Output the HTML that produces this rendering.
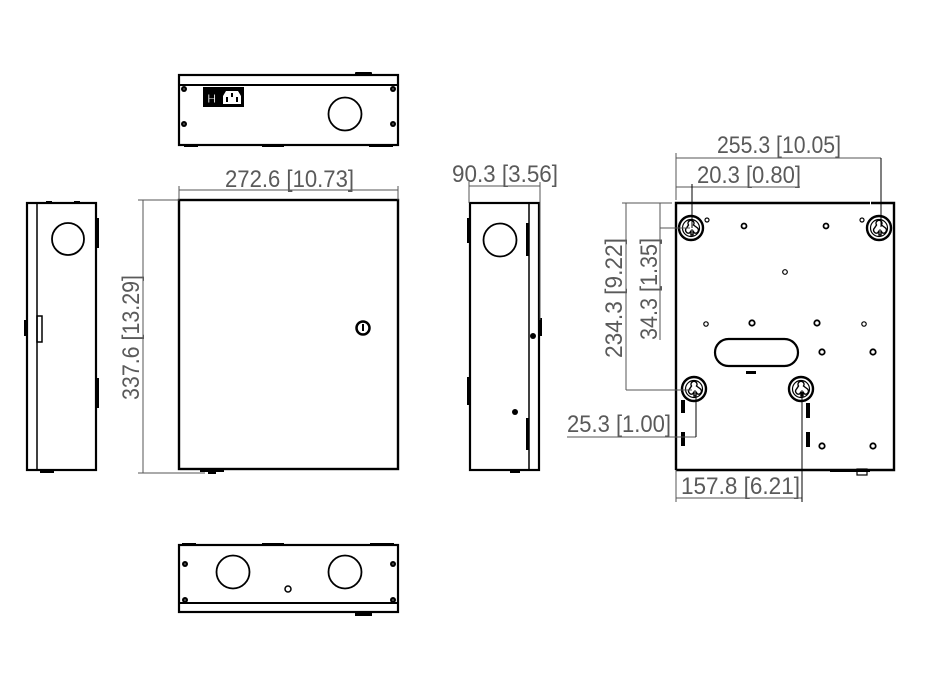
<!DOCTYPE html>
<html><head><meta charset="utf-8"><style>
html,body{margin:0;padding:0;background:#fff;}
svg{display:block;}
text{font-family:"Liberation Sans",sans-serif;fill:#5a5a5a;font-size:24px;}
</style></head><body>
<svg width="936" height="673" viewBox="0 0 936 673" xmlns="http://www.w3.org/2000/svg">
<defs>
<g id="kh">
<circle r="12" fill="none" stroke="#000" stroke-width="2.4"/>
<circle r="8.5" fill="none" stroke="#000" stroke-width="1.2"/>
<path d="M-2.5,-3 a3,3 0 1 1 5,0 l4,3 a3,3 0 0 1 -3,5 l-1.5,-2 v4 h-2 v-4 l-1.5,2 a3,3 0 0 1 -3,-5 z" fill="none" stroke="#000" stroke-width="1.4"/>
</g>
<g id="sc"><circle r="3" fill="#000"/><circle r="1" fill="#555"/></g>
</defs>
<g fill="none" stroke="#000">
<!-- TOP VIEW -->
<rect x="355" y="72" width="17" height="4" fill="#000" stroke="none" rx="1"/>
<rect x="179" y="75" width="219" height="70" stroke-width="2.2"/>
<line x1="179" y1="85" x2="398" y2="85" stroke-width="2"/>
<rect x="184" y="145" width="14" height="2" fill="#000" stroke="none"/>
<rect x="262" y="145" width="22" height="2" fill="#000" stroke="none"/>
<rect x="369" y="145" width="24" height="2" fill="#000" stroke="none"/>
<rect x="203" y="87" width="16" height="20" fill="#000" stroke="none"/>
<text x="207" y="103" style="fill:#fff;font-size:13px;font-weight:bold">H</text>
<rect x="219" y="87" width="25" height="20" fill="#000" stroke="none"/>
<path d="M223,104 v-8 l3,-5 h12 l3,5 v8 z" fill="#fff" stroke="none"/>
<rect x="226" y="97" width="2" height="5" fill="#000" stroke="none"/>
<rect x="236" y="97" width="2" height="5" fill="#000" stroke="none"/>
<rect x="231" y="93" width="2" height="4" fill="#000" stroke="none"/>
<circle cx="345" cy="114" r="16.5" stroke-width="1.8"/>
</g>
<use href="#sc" x="184" y="89"/><use href="#sc" x="393" y="89"/>
<use href="#sc" x="184" y="124"/><use href="#sc" x="393" y="124"/>

<!-- LEFT SIDE VIEW -->
<g fill="none" stroke="#000">
<rect x="27" y="203" width="69" height="267" stroke-width="2.2"/>
<line x1="37" y1="203" x2="37" y2="470" stroke-width="1.5"/>
<circle cx="68" cy="239" r="16" stroke-width="1.8"/>
<rect x="37" y="316" width="5" height="26" stroke-width="1.5"/>
<rect x="24" y="320" width="4" height="16" fill="#000" stroke="none"/>
<rect x="96" y="218" width="3" height="30" fill="#000" stroke="none"/>
<rect x="96" y="378" width="3" height="30" fill="#000" stroke="none"/>
<rect x="40" y="470" width="14" height="3" fill="#000" stroke="none"/>
<rect x="46" y="201" width="6" height="2" fill="#000" stroke="none"/>
<rect x="74" y="201" width="6" height="2" fill="#000" stroke="none"/>
</g>

<!-- FRONT VIEW -->
<g fill="none" stroke="#000">
<rect x="179" y="200" width="219" height="269" stroke-width="2.4"/>
<rect x="200" y="469" width="24" height="3" fill="#000" stroke="none"/>
<rect x="208" y="469" width="8" height="5" fill="#000" stroke="none"/>
<circle cx="363" cy="328" r="6.5" stroke-width="2.5"/>
<rect x="362" y="324" width="2" height="7" fill="#000" stroke="none"/>
</g>
<g stroke="#555" stroke-width="1" fill="none">
<line x1="179" y1="190" x2="398" y2="190"/>
<line x1="179" y1="186" x2="179" y2="200"/>
<line x1="398" y1="186" x2="398" y2="200"/>
<line x1="143" y1="200" x2="143" y2="473"/>
<line x1="138" y1="200" x2="179" y2="200"/>
<line x1="138" y1="473" x2="205" y2="473"/>
</g>
<text x="225" y="187" textLength="129" lengthAdjust="spacingAndGlyphs">272.6 [10.73]</text>
<text transform="translate(139,400) rotate(-90)" textLength="125" lengthAdjust="spacingAndGlyphs">337.6 [13.29]</text>

<!-- RIGHT SIDE VIEW -->
<g fill="none" stroke="#000">
<rect x="470" y="203" width="69" height="267" stroke-width="2.2"/>
<line x1="529" y1="203" x2="529" y2="470" stroke-width="1.5"/>
<circle cx="500" cy="240" r="16.5" stroke-width="1.8"/>
<rect x="526" y="223" width="3" height="33" fill="#000" stroke="none"/>
<rect x="526" y="418" width="3" height="32" fill="#000" stroke="none"/>
<rect x="539" y="318" width="3" height="18" fill="#000" stroke="none"/>
<rect x="467" y="218" width="3" height="25" fill="#000" stroke="none"/>
<rect x="467" y="377" width="3" height="28" fill="#000" stroke="none"/>
<circle cx="533" cy="336" r="3" fill="#000" stroke="none"/>
<circle cx="515" cy="412" r="3" fill="#000" stroke="none"/>
<rect x="510" y="470" width="10" height="3" fill="#000" stroke="none"/>
</g>
<g stroke="#555" stroke-width="1">
<line x1="469" y1="186" x2="540" y2="186"/>
<line x1="469" y1="182" x2="469" y2="203"/>
<line x1="540" y1="182" x2="540" y2="320"/>
</g>
<text x="452" y="182" textLength="106" lengthAdjust="spacingAndGlyphs">90.3 [3.56]</text>

<!-- BACK VIEW -->
<g fill="none" stroke="#000">
<path d="M676,470 V203 H870 M871,203 H894 V470 H676" stroke-width="2.4"/>
<rect x="830" y="469" width="40" height="3" fill="#000" stroke="none"/>
<rect x="857" y="469" width="10" height="6" stroke-width="1.2"/>
<rect x="715" y="339" width="83" height="27" rx="13.5" stroke-width="2.2"/>
<rect x="746" y="371" width="10" height="3" fill="#000" stroke="none"/>
<rect x="681" y="400" width="4" height="13" fill="#000" stroke="none"/>
<rect x="681" y="432" width="4" height="14" fill="#000" stroke="none"/>
<rect x="806" y="403" width="4" height="15" fill="#000" stroke="none"/>
<rect x="806" y="432" width="4" height="15" fill="#000" stroke="none"/>
<g stroke-width="1.2"><circle cx="707" cy="220" r="2"/><circle cx="862" cy="220" r="2"/><circle cx="706" cy="324" r="2.2"/><circle cx="864" cy="324" r="2.2"/><circle cx="785" cy="272" r="2.3"/></g>
<g stroke-width="1.8"><circle cx="744" cy="226" r="2.5"/><circle cx="826" cy="226" r="2.5"/><circle cx="752" cy="323" r="2.7"/><circle cx="817" cy="323" r="2.7"/><circle cx="822" cy="352" r="2.7"/><circle cx="873" cy="352" r="2.7"/><circle cx="822" cy="446" r="2.7"/><circle cx="873" cy="446" r="2.7"/></g>
</g>
<use href="#kh" x="691" y="228"/><use href="#kh" x="879" y="228"/>
<use href="#kh" x="694" y="389"/><use href="#kh" x="801" y="389"/>
<g stroke-width="1">
<g stroke="#555">
<line x1="676" y1="158" x2="881" y2="158"/>
<line x1="676" y1="153" x2="676" y2="200"/>
<line x1="676" y1="187" x2="692" y2="187"/>
<line x1="692" y1="187" x2="800" y2="187"/>
<line x1="622" y1="203" x2="672" y2="203"/>
<line x1="626" y1="203" x2="626" y2="390"/>
<line x1="626" y1="390" x2="692" y2="390"/>
<line x1="660" y1="203" x2="660" y2="340"/>
<line x1="660" y1="228" x2="690" y2="228"/>
<line x1="567" y1="437" x2="696" y2="437"/>
<line x1="676" y1="498" x2="802" y2="498"/>
<line x1="676" y1="470" x2="676" y2="502"/>
</g>
<g stroke="#000">
<line x1="881" y1="158" x2="881" y2="227"/>
<line x1="692" y1="184" x2="692" y2="228"/>
<line x1="696" y1="392" x2="696" y2="437"/>
<line x1="802" y1="392" x2="802" y2="502"/>
</g>
</g>
<text x="717" y="153" textLength="124" lengthAdjust="spacingAndGlyphs">255.3 [10.05]</text>
<text x="697" y="183" textLength="104" lengthAdjust="spacingAndGlyphs">20.3 [0.80]</text>
<text transform="translate(622,358) rotate(-90)" textLength="120" lengthAdjust="spacingAndGlyphs">234.3 [9.22]</text>
<text transform="translate(657,340) rotate(-90)" textLength="102" lengthAdjust="spacingAndGlyphs">34.3 [1.35]</text>
<text x="567" y="432" textLength="104" lengthAdjust="spacingAndGlyphs">25.3 [1.00]</text>
<text x="681" y="494" textLength="119" lengthAdjust="spacingAndGlyphs">157.8 [6.21]</text>

<!-- BOTTOM VIEW -->
<g fill="none" stroke="#000">
<rect x="182" y="543" width="14" height="3" fill="#000" stroke="none"/>
<rect x="262" y="543" width="22" height="3" fill="#000" stroke="none"/>
<rect x="370" y="543" width="24" height="3" fill="#000" stroke="none"/>
<rect x="179" y="545" width="219" height="67" stroke-width="2.2"/>
<line x1="179" y1="603" x2="398" y2="603" stroke-width="2"/>
<rect x="355" y="612" width="17" height="4" fill="#000" stroke="none"/>
<circle cx="233" cy="572" r="16.5" stroke-width="1.8"/>
<circle cx="345" cy="572" r="16.5" stroke-width="1.8"/>
<circle cx="288" cy="589" r="3" stroke-width="1.5"/>
</g>
<use href="#sc" x="185" y="564"/><use href="#sc" x="393" y="564"/>
<use href="#sc" x="185" y="600"/><use href="#sc" x="393" y="600"/>
</svg>
</body></html>
